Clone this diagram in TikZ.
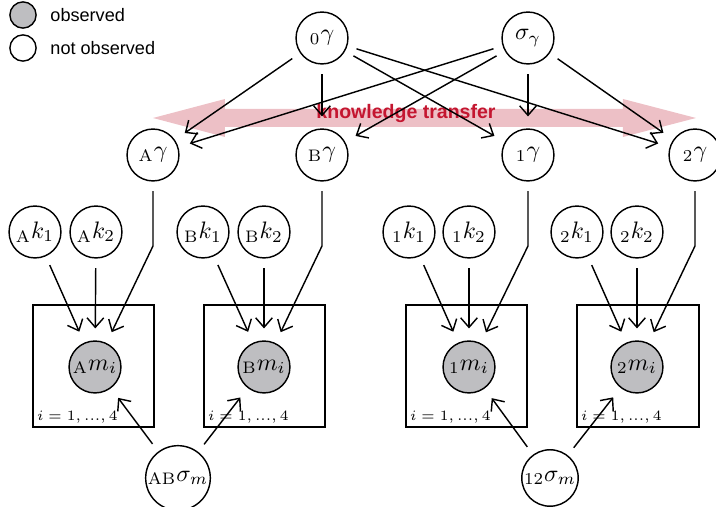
\documentclass[tikz,border=0pt]{standalone}
\usepackage{fontspec}
\setsansfont{Liberation Sans}
\usetikzlibrary{arrows.meta}
\definecolor{obsgray}{RGB}{190,190,193}
\definecolor{transpink}{RGB}{237,192,198}
\definecolor{transred}{RGB}{196,22,48}
\tikzset{
  var/.style={circle,draw,line width=0.6pt,minimum size=21.8pt,inner sep=0.5pt},
  obs/.style={var,fill=obsgray},
  plate/.style={draw,line width=0.6pt},
  arr/.style={-{Straight Barb[length=4pt,width=7pt]},line width=0.6pt,shorten >=5pt,shorten <=4pt},
  platelabel/.style={anchor=south west,inner sep=1.5pt,font=\fontsize{6.3}{7}\selectfont},
  legendtext/.style={anchor=west,inner sep=0pt,font=\sffamily\fontsize{7.6}{9}\selectfont}
}
\begin{document}
\begin{tikzpicture}[x=0.42pt,y=-0.42pt]
  \useasboundingbox (0,0) rectangle (716,507);
  % legend
  \node[obs,minimum size=11pt] at (23,15) (lobs) {};
  \node[var,minimum size=11pt] at (23,48) (lnobs) {};
  \node[legendtext] at (50,15) (tobs) {observed};
  \node[legendtext] at (50,48) (tnobs) {not observed};
  % knowledge transfer
  \fill[transpink] (153,118) -- (225,99) -- (225,109) -- (623,109) -- (623,99)
    -- (696,118) -- (623,137) -- (623,127) -- (225,127) -- (225,137) -- cycle;
  \node[font=\sffamily\bfseries\fontsize{8.2}{9}\selectfont,text=transred,inner sep=0pt] at (406,114) (kt) {knowledge transfer};
  % hyperparameters
  \node[var] at (322,38) (g0) {${}_{0}\gamma$};
  \node[var] at (528,38) (gs) {$\sigma_\gamma$};
  \node[var] at (153,155) (gA) {${}_{\mathrm{A}}\gamma$};
  \node[var] at (322,155) (gB) {${}_{\mathrm{B}}\gamma$};
  \node[var] at (528,155) (g1) {${}_{1}\gamma$};
  \node[var] at (695,155) (g2) {${}_{2}\gamma$};
  \foreach \t in {gA,gB,g1,g2} {
    \draw[arr] (g0) -- (\t);
    \draw[arr] (gs) -- (\t);
  }
  % plates
  \draw[plate] (33,305) rectangle (154,427);
  \draw[plate] (204,305) rectangle (325,427);
  \draw[plate] (406,305) rectangle (527,427);
  \draw[plate] (577,305) rectangle (699,427);
  \node[platelabel] at (33,427) (pA) {$i=1,...,4$};
  \node[platelabel] at (204,427) (pB) {$i=1,...,4$};
  \node[platelabel] at (406,427) (p1) {$i=1,...,4$};
  \node[platelabel] at (577,427) (p2) {$i=1,...,4$};
  % kernel parameters
  \node[var] at (35,232) (kA1) {${}_{\mathrm{A}}k_1$};
  \node[var] at (96,232) (kA2) {${}_{\mathrm{A}}k_2$};
  \node[var] at (203,232) (kB1) {${}_{\mathrm{B}}k_1$};
  \node[var] at (264,232) (kB2) {${}_{\mathrm{B}}k_2$};
  \node[var] at (409,232) (k11) {${}_{1}k_1$};
  \node[var] at (469,232) (k12) {${}_{1}k_2$};
  \node[var] at (577,232) (k21) {${}_{2}k_1$};
  \node[var] at (637,232) (k22) {${}_{2}k_2$};
  % observations
  \node[obs] at (95,367) (mA) {${}_{\mathrm{A}}m_i$};
  \node[obs] at (264,367) (mB) {${}_{\mathrm{B}}m_i$};
  \node[obs] at (469,367) (m1) {${}_{1}m_i$};
  \node[obs] at (637,367) (m2) {${}_{2}m_i$};
  % noise
  \node[var] at (178,478) (sAB) {${}_{\mathrm{AB}}\sigma_m$};
  \node[var] at (550,478) (s12) {${}_{12}\sigma_m$};
  % bends
  \coordinate (bA) at (153,246);
  \coordinate (bB) at (322,246);
  \coordinate (b1) at (528,246);
  \coordinate (b2) at (695,246);
  \draw[arr] (kA1) -- (mA);
  \draw[arr] (kA2) -- (mA);
  \draw[arr] (gA) -- (bA) -- (mA);
  \draw[arr] (kB1) -- (mB);
  \draw[arr] (kB2) -- (mB);
  \draw[arr] (gB) -- (bB) -- (mB);
  \draw[arr] (k11) -- (m1);
  \draw[arr] (k12) -- (m1);
  \draw[arr] (g1) -- (b1) -- (m1);
  \draw[arr] (k21) -- (m2);
  \draw[arr] (k22) -- (m2);
  \draw[arr] (g2) -- (b2) -- (m2);
  \draw[arr] (sAB) -- (mA);
  \draw[arr] (sAB) -- (mB);
  \draw[arr] (s12) -- (m1);
  \draw[arr] (s12) -- (m2);
\end{tikzpicture}
\end{document}
